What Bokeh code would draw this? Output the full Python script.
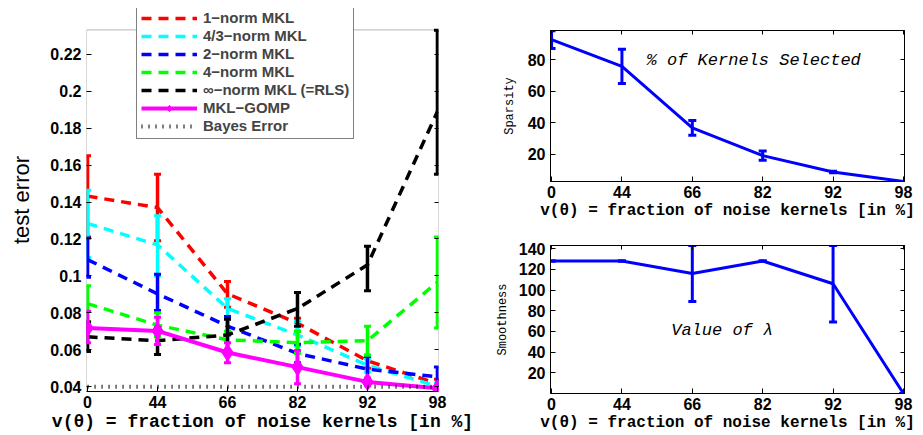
from bokeh.plotting import figure
from bokeh.layouts import row, column
from bokeh.models import (Range1d, FixedTicker, Legend, LegendItem, Label,
                          LinearAxis, CustomJSTickFormatter, BoxAnnotation)
from bokeh.embed import file_html
from bokeh.resources import INLINE

# ---------------- data ----------------
noise_pct = ["0", "44", "66", "82", "92", "98"]
xpos = [0, 1, 2, 3, 4, 5]

err_1norm = [0.1432, 0.1370, 0.0903, 0.0744, 0.0540, 0.0416]
err_1norm_lo = [0.1210, 0.1190, 0.0830, 0.0700, 0.0500, 0.0390]
err_1norm_hi = [0.1650, 0.1550, 0.0970, 0.0770, 0.0570, 0.0440]

err_43norm = [0.1284, 0.1168, 0.0824, 0.0680, 0.0516, 0.0402]
err_43norm_lo = [0.1100, 0.1000, 0.0770, 0.0620, 0.0480, 0.0390]
err_43norm_hi = [0.1464, 0.1326, 0.0876, 0.0755, 0.0550, 0.0420]

err_2norm = [0.1088, 0.0903, 0.0728, 0.0580, 0.0495, 0.0453]
err_2norm_lo = [0.0993, 0.0813, 0.0680, 0.0530, 0.0420, 0.0400]
err_2norm_hi = [0.1205, 0.1009, 0.0780, 0.0630, 0.0564, 0.0506]

err_4norm = [0.0850, 0.0733, 0.0654, 0.0638, 0.0649, 0.0966]
err_4norm_lo = [0.0750, 0.0670, 0.0600, 0.0580, 0.0570, 0.0718]
err_4norm_hi = [0.0946, 0.0800, 0.0700, 0.0700, 0.0728, 0.1210]

err_infnorm = [0.0670, 0.0649, 0.0680, 0.0823, 0.1060, 0.1890]
err_infnorm_lo = [0.0590, 0.0575, 0.0600, 0.0728, 0.0919, 0.1550]
err_infnorm_hi = [0.0750, 0.0720, 0.0765, 0.0910, 0.1160, 0.2330]

err_gomp = [0.0718, 0.0702, 0.0585, 0.0506, 0.0426, 0.0391]
err_gomp_lo = [0.0638, 0.0628, 0.0530, 0.0416, 0.0405, 0.0385]
err_gomp_hi = [0.0808, 0.0776, 0.0638, 0.0596, 0.0447, 0.0397]

bayes_error = [0.04, 0.04, 0.04, 0.04, 0.04, 0.04]

test_err_ticks = [0.04, 0.06, 0.08, 0.10, 0.12, 0.14, 0.16, 0.18, 0.20, 0.22]
test_err_tick_labels = ["0.04", "0.06", "0.08", "0.1", "0.12", "0.14", "0.16", "0.18", "0.2", "0.22"]

sparsity = [92.9, 75.8, 36.7, 19.0, 8.5, 2.5]
sparsity_lo = [87.3, 65.0, 32.0, 16.0, 8.0, 2.5]
sparsity_hi = [98.5, 86.7, 41.4, 22.0, 9.0, 2.5]
sparsity_ticks = [20, 40, 60, 80]

smoothness = [128, 128, 116, 128, 106, 0]
smoothness_lo = [128, 128, 89, 128, 69, 0]
smoothness_hi = [128, 128, 143, 128, 143, 0]
smoothness_ticks = [20, 40, 60, 80, 100, 120, 140]

series = [
    ("1\u2212norm MKL", "#FF0000", err_1norm, err_1norm_lo, err_1norm_hi),
    ("4/3\u2212norm MKL", "#00FFFF", err_43norm, err_43norm_lo, err_43norm_hi),
    ("2\u2212norm MKL", "#0000FF", err_2norm, err_2norm_lo, err_2norm_hi),
    ("4\u2212norm MKL", "#00FF00", err_4norm, err_4norm_lo, err_4norm_hi),
    ("\u221e\u2212norm MKL (=RLS)", "#000000", err_infnorm, err_infnorm_lo, err_infnorm_hi),
]

XLABEL = "v(\u03b8) = fraction of noise kernels [in %]"
SANS = "Liberation Sans"
MONO = "Liberation Mono"


def style(p, yticks, ylabels, xlabel_size, ylabel, ylabel_font, ylabel_size,
          ylabel_style, ylabel_standoff, top_ticks=True):
    p.grid.visible = False
    p.outline_line_color = "black"
    p.outline_line_width = 1
    p.background_fill_color = "white"
    xa = p.below[0]
    ya = p.left[0]
    for ax in [xa, ya]:
        ax.major_tick_in = 5
        ax.major_tick_out = 0
        ax.minor_tick_line_color = None
        ax.axis_line_color = "black"
        ax.major_label_text_font = SANS
        ax.major_label_text_font_style = "bold"
        ax.major_label_text_font_size = "16px"
        ax.major_label_text_color = "black"
        ax.axis_label_text_color = "black"
    xa.ticker = FixedTicker(ticks=xpos)
    xa.major_label_overrides = {i: lab for i, lab in zip(xpos, noise_pct)}
    xa.major_label_standoff = 4
    xa.axis_label = XLABEL
    xa.axis_label_text_font = MONO
    xa.axis_label_text_font_style = "bold"
    xa.axis_label_text_font_size = xlabel_size
    xa.axis_label_standoff = 1
    ya.ticker = FixedTicker(ticks=yticks)
    if ylabels is not None:
        ya.major_label_overrides = {t: lab for t, lab in zip(yticks, ylabels)}
    ya.major_label_standoff = 5
    ya.axis_label = ylabel
    ya.axis_label_text_font = ylabel_font
    ya.axis_label_text_font_size = ylabel_size
    ya.axis_label_text_font_style = ylabel_style
    ya.axis_label_standoff = ylabel_standoff
    # inward ticks on the top and right of the box
    blank = CustomJSTickFormatter(code="return ''")
    if top_ticks:
        top = LinearAxis(ticker=FixedTicker(ticks=xpos), formatter=blank,
                         major_tick_in=4, major_tick_out=0, minor_tick_line_color=None,
                         axis_line_color="black", major_label_standoff=0)
        p.add_layout(top, "above")
    right = LinearAxis(ticker=FixedTicker(ticks=yticks), formatter=blank,
                       major_tick_in=4, major_tick_out=0, minor_tick_line_color=None,
                       axis_line_color="black", major_label_standoff=0)
    p.add_layout(right, "right")
    return ya, right


def errbars(p, x, lo, hi, color, lw=3.5, cap=7):
    p.segment(x0=x, y0=lo, x1=x, y1=hi, line_color=color, line_width=lw)
    p.scatter(x, lo, marker="dash", size=cap, line_color=color, line_width=3)
    p.scatter(x, hi, marker="dash", size=cap, line_color=color, line_width=3)


# ---------------- left: test error ----------------
# the frame reaches above the axes box so that the legend can stick out of it
AX_TOP = 0.2332
p1 = figure(width=488, height=434, x_range=Range1d(-0.015, 5.015),
            y_range=Range1d(0.0374, 0.2448), output_backend="svg",
            toolbar_location=None, min_border_left=86, min_border_right=50,
            min_border_top=8, min_border_bottom=35)
ya1, ra1 = style(p1, test_err_ticks, test_err_tick_labels, "18px", "test error", SANS,
                 "22px", "normal", 13, top_ticks=False)
p1.outline_line_color = None
ya1.axis_line_color = None
ra1.axis_line_color = None
p1.add_layout(BoxAnnotation(top=AX_TOP, fill_color=None, line_color="black",
                            line_width=1, level="underlay"))

items = []
for name, color, m, lo, hi in series:
    r = p1.line(xpos, m, line_color=color, line_width=3.5, line_dash="10 7")
    errbars(p1, xpos, lo, hi, color)
    items.append(LegendItem(label=name, renderers=[r]))

rg = p1.line(xpos, err_gomp, line_color="#FF00FF", line_width=4)
errbars(p1, xpos, err_gomp_lo, err_gomp_hi, "#FF00FF")
rgm = p1.scatter(xpos, err_gomp, marker="diamond", size=17, fill_color="#FF00FF",
                 line_color="#FF00FF")
items.append(LegendItem(label="MKL\u2212GOMP", renderers=[rg, rgm]))

rb = p1.line(xpos, bayes_error, line_color="black", line_width=4, line_dash="1 6")
items.append(LegendItem(label="Bayes Error", renderers=[rb]))

legend = Legend(items=items, location=(50, 252), margin=0, padding=4,
                spacing=1, label_height=16, glyph_height=16, glyph_width=56,
                label_standoff=6, label_text_font=SANS, label_text_font_style="bold",
                label_text_font_size="15px", border_line_color="black",
                border_line_width=1, background_fill_color="white",
                background_fill_alpha=1.0)
p1.add_layout(legend)

# ---------------- right top: sparsity ----------------
p2 = figure(width=434, height=222, x_range=Range1d(-0.015, 5.015),
            y_range=Range1d(2.5, 98.7), output_backend="svg",
            toolbar_location=None, min_border_left=62, min_border_right=18,
            min_border_top=30, min_border_bottom=38)
style(p2, sparsity_ticks, None, "16px", "Sparsity", MONO, "12px", "normal", 8)
p2.line(xpos, sparsity, line_color="#0000FF", line_width=3)
errbars(p2, xpos, sparsity_lo, sparsity_hi, "#0000FF", lw=3, cap=8)
p2.add_layout(Label(x=1.35, y=79.5, text="% of Kernels Selected", text_font=MONO,
                    text_font_style="italic", text_font_size="17px",
                    text_baseline="middle", text_color="black"))

# ---------------- right bottom: smoothness ----------------
p3 = figure(width=434, height=212, x_range=Range1d(-0.015, 5.015),
            y_range=Range1d(0, 143), output_backend="svg",
            toolbar_location=None, min_border_left=62, min_border_right=18,
            min_border_top=23, min_border_bottom=35)
style(p3, smoothness_ticks, None, "16px", "Smoothness", MONO, "12px", "normal", 6)
p3.line(xpos, smoothness, line_color="#0000FF", line_width=3)
errbars(p3, xpos, smoothness_lo, smoothness_hi, "#0000FF", lw=3, cap=8)
p3.add_layout(Label(x=1.7, y=61, text="Value of \u03bb", text_font=MONO,
                    text_font_style="italic", text_font_size="17px",
                    text_baseline="middle", text_color="black"))

layout = row(p1, column(p2, p3))
open("out.html", "w").write(file_html(layout, INLINE))
